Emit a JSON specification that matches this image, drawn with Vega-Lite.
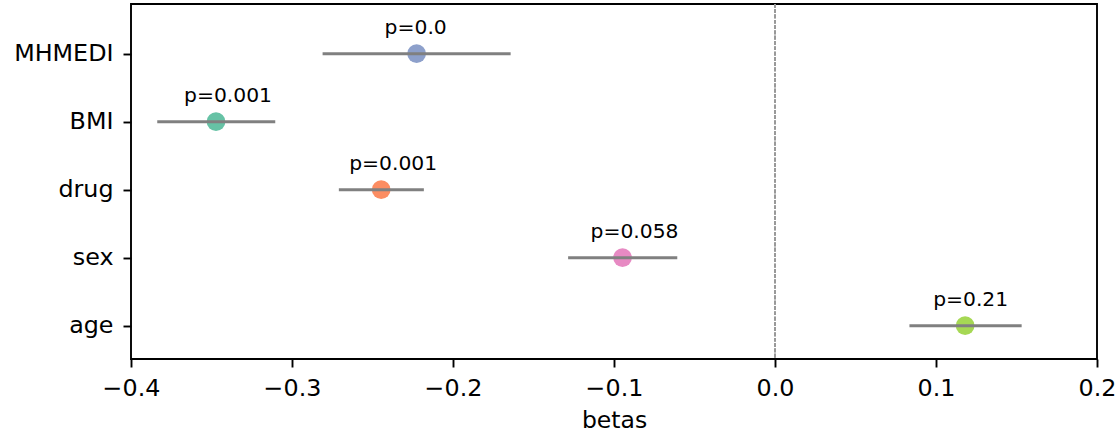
{
  "$schema": "https://vega.github.io/schema/vega-lite/v6.json",
  "autosize": {"type": "none"},
  "padding": {"left": 131, "top": 4, "right": 22, "bottom": 76},
  "width": 966,
  "height": 355,
  "background": "white",
  "config": {
    "view": {"stroke": "black", "strokeWidth": 1.9},
    "font": "DejaVu Sans",
    "axis": {
      "domain": false,
      "grid": false,
      "ticks": true,
      "tickColor": "black",
      "tickSize": 8,
      "tickWidth": 1.9,
      "labelFont": "DejaVu Sans",
      "labelFontSize": 23.8,
      "labelColor": "black",
      "labelFlush": false,
      "titleFont": "DejaVu Sans",
      "titleFontSize": 23.5,
      "titleFontWeight": "normal",
      "titleColor": "black"
    }
  },
  "data": {
    "values": [
      {"name": "MHMEDI", "pos": 4, "beta": -0.2226, "lo": -0.2810, "hi": -0.1642, "p": "p=0.0"},
      {"name": "BMI", "pos": 3, "beta": -0.3472, "lo": -0.3837, "hi": -0.3104, "p": "p=0.001"},
      {"name": "drug", "pos": 2, "beta": -0.2446, "lo": -0.2709, "hi": -0.2181, "p": "p=0.001"},
      {"name": "sex", "pos": 1, "beta": -0.0947, "lo": -0.1285, "hi": -0.0607, "p": "p=0.058"},
      {"name": "age", "pos": 0, "beta": 0.1181, "lo": 0.0835, "hi": 0.1532, "p": "p=0.21"}
    ]
  },
  "layer": [
    {
      "mark": {"type": "rule", "color": "#999999", "strokeWidth": 1.3, "strokeDash": [3.7, 1.6]},
      "encoding": {
        "x": {"datum": 0, "type": "quantitative"}
      }
    },
    {
      "mark": {"type": "circle", "opacity": 1, "size": 350},
      "encoding": {
        "x": {
          "field": "beta", "type": "quantitative",
          "scale": {"domain": [-0.4, 0.2], "nice": false, "zero": false},
          "axis": {"values": [-0.4, -0.3, -0.2, -0.1, 0.0, 0.1, 0.2], "format": ".1f", "title": "betas", "labelPadding": 9, "titlePadding": 9}
        },
        "y": {
          "field": "pos", "type": "quantitative",
          "scale": {"domain": [-0.49, 4.73], "nice": false, "zero": false},
          "axis": {"values": [0, 1, 2, 3, 4], "labelExpr": "['age','sex','drug','BMI','MHMEDI'][datum.value]", "title": null, "labelPadding": 10}
        },
        "color": {
          "field": "name", "type": "nominal",
          "scale": {"domain": ["MHMEDI", "BMI", "drug", "sex", "age"], "range": ["#8da0cb", "#66c2a5", "#fc8d62", "#e78ac3", "#a6d854"]},
          "legend": null
        }
      }
    },
    {
      "mark": {"type": "rule", "color": "#808080", "strokeWidth": 3},
      "encoding": {
        "x": {"field": "lo", "type": "quantitative"},
        "x2": {"field": "hi"},
        "y": {"field": "pos", "type": "quantitative"}
      }
    },
    {
      "mark": {"type": "text", "align": "left", "baseline": "alphabetic", "dx": -32, "dy": -20, "fontSize": 20.3, "font": "DejaVu Sans", "color": "black"},
      "encoding": {
        "x": {"field": "beta", "type": "quantitative"},
        "y": {"field": "pos", "type": "quantitative"},
        "text": {"field": "p"}
      }
    }
  ]
}
